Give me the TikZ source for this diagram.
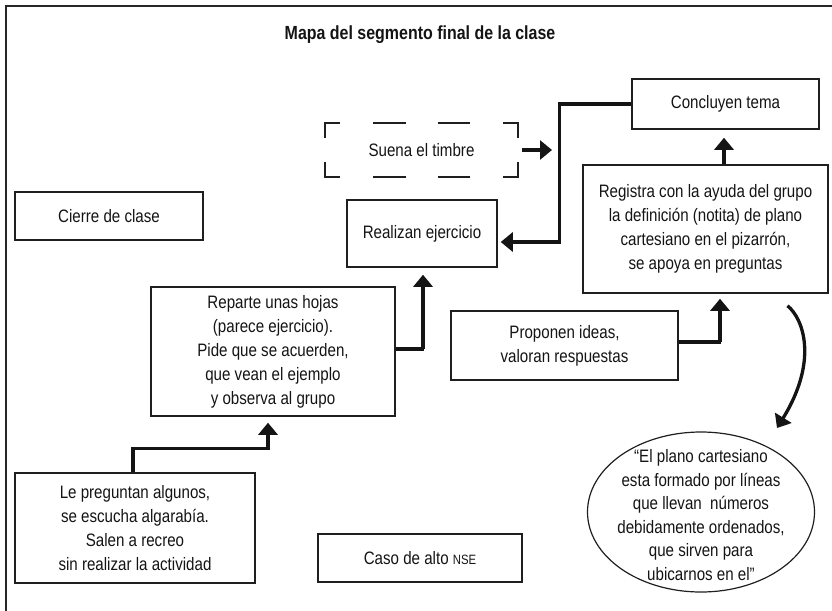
\documentclass[tikz,border=0pt]{standalone}
\usepackage{fontspec}
\setmainfont{Liberation Sans}[FakeStretch=0.84]
\usetikzlibrary{arrows.meta,calc,shapes.geometric}
\begin{document}
\begin{tikzpicture}[x=1pt,y=-1pt,
  txt/.style={font=\fontsize{18}{24}\selectfont, text=black!92, align=center},
  box/.style={txt, draw=black!88, line width=1.5pt, inner sep=0pt},
  arr/.style={draw=black!92, line width=3.3pt, -{Triangle[width=19pt,length=12pt]}},
  frame/.style={draw=black!85, line width=2pt}]
\useasboundingbox (0,0) rectangle (832,610);
\draw[frame] (6,640) -- (6,6) -- (860,6);
\node[font=\bfseries\fontsize{19}{22}\selectfont, text=black!92] (title) at (420,35) {Mapa del segmento final de la clase};
% boxes
\node[box, minimum width=188pt, minimum height=48pt] (cierre) at (109,216) {Cierre de clase};
\node[txt, minimum width=193pt, minimum height=54pt, inner sep=0pt] (suena) at (421.5,150) {Suena el timbre};
\node[box, minimum width=187pt, minimum height=50pt] (conc) at (725.5,104) {Concluyen tema};
\node[box, minimum width=150pt, minimum height=67pt] (real) at (422,233.5) {Realizan ejercicio};
\node[box, minimum width=245pt, minimum height=128pt] (regis) at (705.5,229) {Registra con la ayuda del grupo\\la definición (notita) de plano\\cartesiano en el pizarrón,\\se apoya en preguntas};
\node[box, minimum width=227pt, minimum height=69pt] (prop) at (564.5,345.5) {Proponen ideas,\\valoran respuestas};
\node[box, minimum width=244pt, minimum height=129pt] (rep) at (273,351.5) {Reparte unas hojas\\(parece ejercicio).\\Pide que se acuerden,\\que vean el ejemplo\\y observa al grupo};
\node[box, minimum width=240pt, minimum height=110pt] (le) at (135,528) {Le preguntan algunos,\\se escucha algarabía.\\Salen a recreo\\sin realizar la actividad};
\node[box, minimum width=204pt, minimum height=48pt] (caso) at (420,558) {Caso de alto {\fontsize{13.5}{15}\selectfont NSE}};
\node[txt, ellipse, draw=black!88, line width=1.2pt, minimum width=227pt, minimum height=160pt, inner sep=0pt, font=\fontsize{18}{23.5}\selectfont] (ell) at (701,512) {};
\node[txt, font=\fontsize{18}{23.5}\selectfont] (elltext) at (701,515) {“El plano cartesiano\\esta formado por líneas\\que llevan\ \ números\\debidamente ordenados,\\que sirven para\\ubicarnos en el”};
% dashed border of suena
\begin{scope}[shift={(suena.north west)}, draw=black!88, line width=2.3pt]
  \draw (0,15) -- (0,0) -- (15,0);
  \draw (178,0) -- (193,0) -- (193,15);
  \draw (0,39) -- (0,54) -- (15,54);
  \draw (178,54) -- (193,54) -- (193,39);
  \draw (48,0) -- (81,0);  \draw (113,0) -- (145,0);
  \draw (48,54) -- (81,54); \draw (113,54) -- (145,54);
\end{scope}
% connectors
\coordinate (tipS) at (552,150);
\draw[arr] ([xshift=4pt]suena.east) -- (tipS);
\draw[arr, shorten >=6pt] ([xshift=-2pt]le.north) -- ++(0,-24) -| ([xshift=-5pt]rep.south);
\draw[arr, shorten >=7pt] ([yshift=2.5pt]rep.east) -- ++(28,0) -| ([xshift=1pt]real.south);
\draw[arr, shorten >=3pt] (conc.west) -- ++(-72,0) |- ([yshift=-8.5pt]real.east);
\draw[arr, shorten >=8pt] ([xshift=18.5pt]regis.north) -- ([xshift=-1.5pt]conc.south);
\draw[arr, shorten >=5pt] ([yshift=3.5pt]prop.east) -- ++(42,0) -| ([xshift=14.5pt]regis.south);
\coordinate (cs) at ($(regis.south)+(82,12)$);
\coordinate (ce) at ($(ell.center)+(76,-84)$);
\draw[arr] (cs) .. controls ($(cs)+(16,13)$) and ($(cs)+(31,55)$) .. (ce);
\end{tikzpicture}
\end{document}
